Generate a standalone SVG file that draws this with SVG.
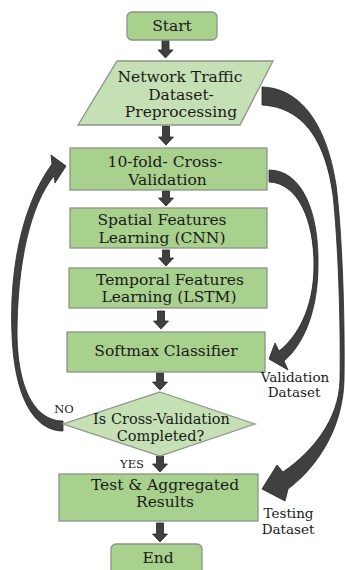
<svg xmlns="http://www.w3.org/2000/svg" width="345" height="570" viewBox="0 0 345 570">
<style>
.box{fill:#a9d18e;stroke:#8c9486;stroke-width:1.3}
.light{fill:#c5e0b4;stroke:#8c9486;stroke-width:1.3}
.t{font-family:"DejaVu Serif","Liberation Serif",serif;font-size:15.5px;fill:#1a1a1a;text-anchor:middle}
.td{font-family:"DejaVu Serif","Liberation Serif",serif;font-size:14.5px;fill:#1a1a1a;text-anchor:middle}
.lbl{font-family:"DejaVu Serif","Liberation Serif",serif;font-size:13.5px;fill:#1a1a1a;text-anchor:middle}
.sm{font-family:"DejaVu Serif","Liberation Serif",serif;font-size:11.5px;fill:#1a1a1a;text-anchor:middle}
.arr{fill:#404040;stroke:#262626;stroke-width:0.8;stroke-linejoin:round}
</style>
<rect width="345" height="570" fill="#ffffff"/>
<g id="connectors">
<path class="arr" d="M162,40 H169 V50 H173 L165.5,58 L158,50 H162 Z"/>
<path class="arr" d="M162.5,126 H169.5 V137 H173.5 L166,145 L158.5,137 H162.5 Z"/>
<path class="arr" d="M162.5,191 H169.5 V198 H173.5 L166,206 L158.5,198 H162.5 Z"/>
<path class="arr" d="M162.5,250 H169.5 V258 H173.5 L166,266 L158.5,258 H162.5 Z"/>
<path class="arr" d="M157.5,311 H164.5 V321 H168.5 L161,329 L153.5,321 H157.5 Z"/>
<path class="arr" d="M156.5,373 H163.5 V382 H167.5 L160,390 L152.5,382 H156.5 Z"/>
<path class="arr" d="M156.5,456 H163.5 V464 H167.5 L160,472 L152.5,464 H156.5 Z"/>
<path class="arr" d="M156.5,523 H163.5 V534 H167.5 L160,542 L152.5,534 H156.5 Z"/>
<path id="c-testing" class="arr" d="M262,87 C298,88 326,120 336,185 C342,230 345,320 344,380 C343,425 320,465 288,489 L285,501 L262,489 L277,465 L283,472 C312,452 339,420 340,380 C341,320 338,240 333,195 C324,130 296,107 262,105 Z"/>
<path id="c-validation" class="arr" d="M269,170 C302,170 319,212 318,265 C318,312 303,345 284,361 L288,370 L269,359 L275,343 L279,351 C296,338 314,310 314,265 C314,220 298,183 269,182 Z"/>
<path id="c-no" class="arr" d="M63,431 C38,431 15,405 12,335 C9,270 22,205 52,164 L51,155 L66,166 L55,183 L54,176 C30,205 17,265 17,335 C18,398 40,421 63,421 Z"/>
</g>
<g id="start">
<rect class="box" x="127" y="12" width="90" height="28" rx="5"/>
<text class="t" x="172" y="31">Start</text>
</g>
<g id="preprocessing">
<path class="light" d="M117,61 H273 L240,125 H78 Z"/>
<text class="t" x="180" y="82">Network Traffic</text>
<text class="t" x="181" y="100">Dataset-</text>
<text class="t" x="181" y="117">Preprocessing</text>
</g>
<g id="crossval">
<rect class="box" x="70" y="148" width="197" height="42"/>
<text class="t" x="165" y="167">10-fold- Cross-</text>
<text class="t" x="167.5" y="185">Validation</text>
</g>
<g id="spatial">
<rect class="box" x="70" y="208" width="197" height="40"/>
<text class="t" x="162" y="225">Spatial Features</text>
<text class="t" x="162" y="243">Learning (CNN)</text>
</g>
<g id="temporal">
<rect class="box" x="69" y="268" width="198" height="40"/>
<text class="t" x="170" y="285">Temporal Features</text>
<text class="t" x="169" y="302">Learning (LSTM)</text>
</g>
<g id="softmax">
<rect class="box" x="67" y="332" width="198" height="40"/>
<text class="t" x="166" y="356">Softmax Classifier</text>
</g>
<g id="decision">
<path class="light" d="M160,392 L255,424 L160,456 L63,424 Z"/>
<text class="td" x="161.5" y="424">Is Cross-Validation</text>
<text class="td" x="160.5" y="441">Completed?</text>
</g>
<g id="test">
<rect class="box" x="59" y="474" width="199" height="47"/>
<text class="t" x="165" y="490">Test &amp; Aggregated</text>
<text class="t" x="165" y="507">Results</text>
</g>
<g id="end">
<rect class="box" x="111" y="544" width="91" height="32" rx="5"/>
<text class="t" x="158" y="563">End</text>
</g>
<g id="labels">
<text class="lbl" x="295" y="382">Validation</text>
<text class="lbl" x="294" y="397">Dataset</text>
<text class="lbl" x="288.5" y="518">Testing</text>
<text class="lbl" x="288" y="534">Dataset</text>
<text class="sm" x="64" y="413">NO</text>
<text class="sm" x="132" y="468">YES</text>
</g>
</svg>
